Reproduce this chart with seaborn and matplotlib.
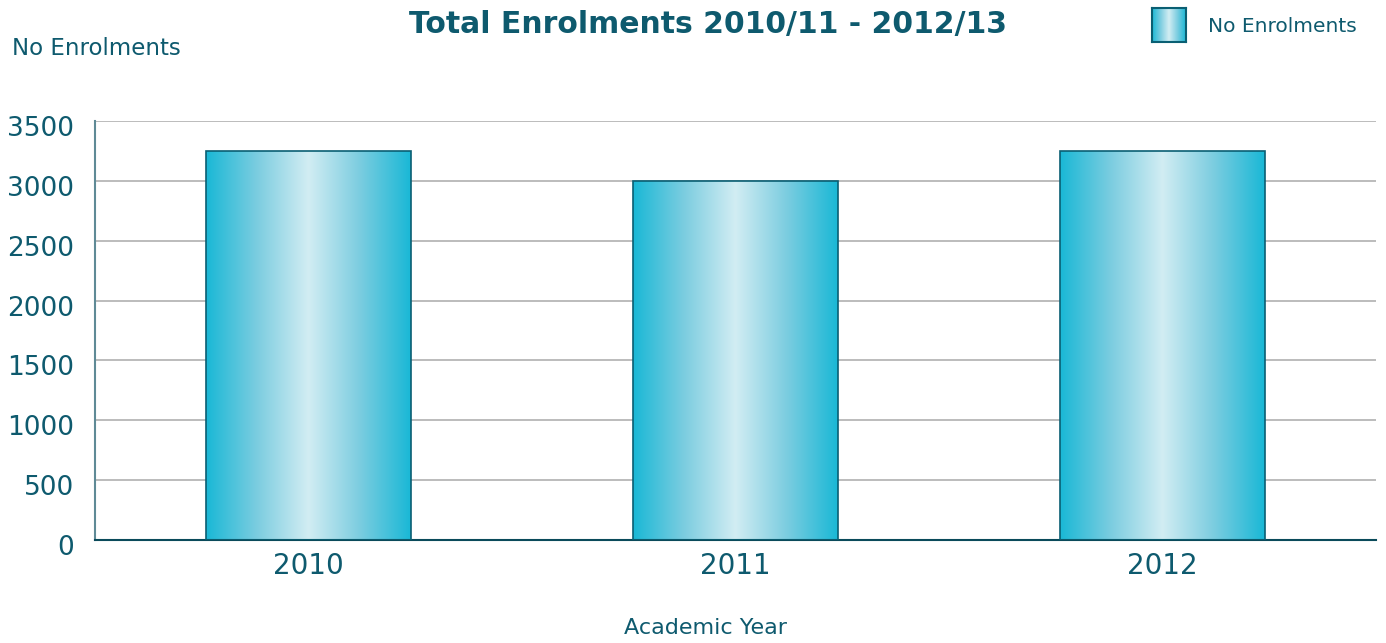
import numpy as np
import pandas as pd
import matplotlib.pyplot as plt
import matplotlib.transforms as mtransforms
import seaborn as sns
from matplotlib.colors import LinearSegmentedColormap

sns.set_theme(style="white")
plt.rcParams['font.family'] = ['DejaVu Sans']

# data
years = ["2010", "2011", "2012"]
enrolments = [3250, 3000, 3250]

text_col = "#0e5a6e"
edge_col = "#0a5f73"
grad = LinearSegmentedColormap.from_list("cyan_grad", ["#1ab8d6", "#7ccde0", "#d2edf3", "#7ccde0", "#1ab8d6"])

df = pd.DataFrame({"Year": years, "No Enrolments": enrolments})

fig = plt.figure(figsize=(13.86, 6.43), dpi=100)
ax = fig.add_axes([0.0685, 0.1602, 0.9243, 0.6516])

sns.barplot(data=df, x="Year", y="No Enrolments", color="#1ab8d6", width=0.48,
            edgecolor=edge_col, linewidth=1.2, ax=ax, zorder=3)

# gradient fill inside each bar
g = np.linspace(0, 1, 256).reshape(1, -1)
for p in ax.patches:
    x0, y0 = p.get_x(), p.get_y()
    w, h = p.get_width(), p.get_height()
    p.set_facecolor("none")
    im = ax.imshow(g, cmap=grad, aspect="auto", extent=[x0, x0 + w, y0, y0 + h],
                   zorder=2.5, interpolation="bilinear")
    im.set_clip_path(p)

ax.set_xlim(-0.5, 2.5)
ax.set_ylim(0, 3500)
ax.set_yticks(range(0, 3501, 500))
ax.yaxis.grid(True, color="#b0b0b0", linewidth=1.2, zorder=0)
ax.set_axisbelow(True)
for s in ["top", "right"]:
    ax.spines[s].set_visible(False)
ax.spines["left"].set_color("#5f8a96")
ax.spines["left"].set_linewidth(1.5)
ax.spines["bottom"].set_color("#0a4a5a")
ax.spines["bottom"].set_linewidth(1.5)
ax.tick_params(axis="y", length=0, labelsize=19, colors=text_col, pad=15)
ax.tick_params(axis="x", length=0, labelsize=20, colors=text_col, pad=9)
# nudge y labels slightly below their gridlines
shift = mtransforms.ScaledTranslation(0, -5 / 100, fig.dpi_scale_trans)
for lbl in ax.get_yticklabels():
    lbl.set_transform(lbl.get_transform() + shift)
ax.set_xlabel("")
ax.set_ylabel("")

fig.text(706 / 1386, 0.008, "Academic Year", ha="center", va="bottom", fontsize=16, color=text_col)
fig.text(0.009, 0.925, "No Enrolments", ha="left", va="center", fontsize=16.5, color=text_col)
fig.text(708 / 1386, 0.962, "Total Enrolments 2010/11 - 2012/13", ha="center", va="center",
         fontsize=21.5, fontweight="bold", color=text_col)

# legend swatch
lax = fig.add_axes([1152 / 1386, 1 - 42 / 643, 34 / 1386, 34 / 643])
lax.imshow(g, cmap=grad, aspect="auto", extent=[0, 1, 0, 1])
lax.set_xticks([])
lax.set_yticks([])
for s in lax.spines.values():
    s.set_color(edge_col)
    s.set_linewidth(1.5)
fig.text(1208 / 1386, 1 - 26 / 643, "No Enrolments", ha="left", va="center", fontsize=14.5, color=text_col)

fig.savefig("out.png", dpi=100)
